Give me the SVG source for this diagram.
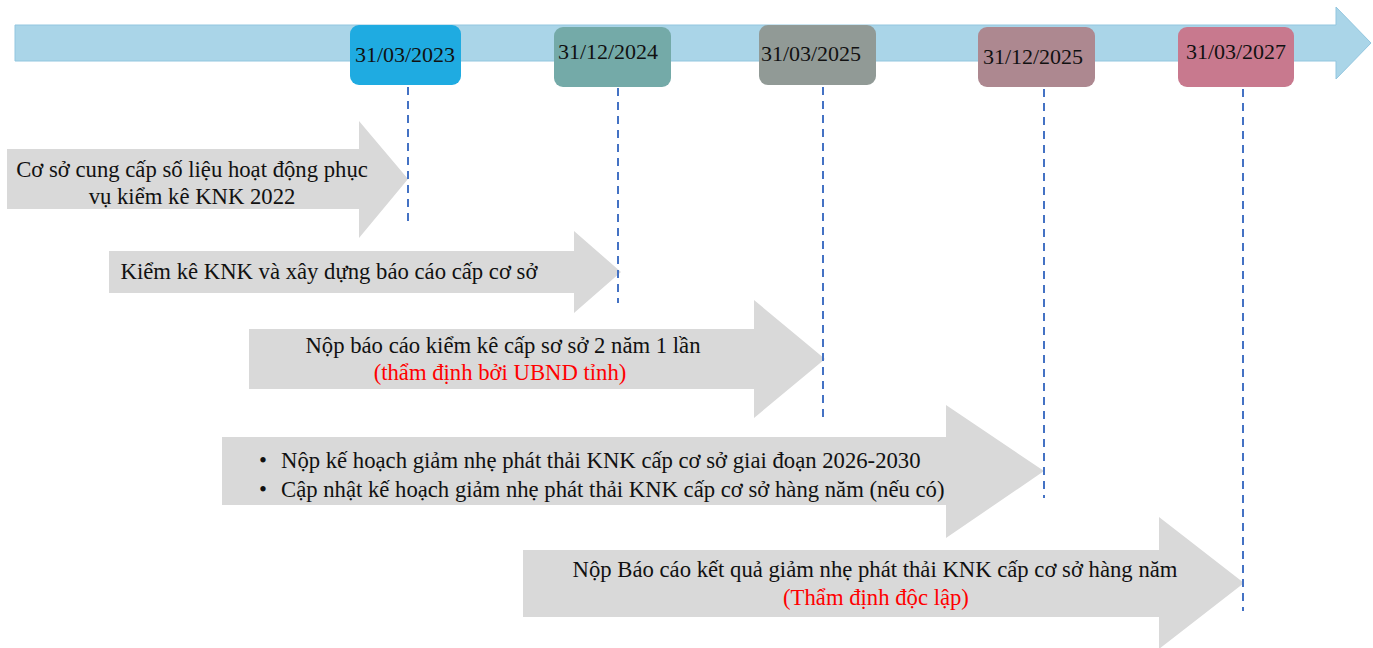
<svg xmlns="http://www.w3.org/2000/svg" width="1373" height="648" viewBox="0 0 1373 648">
<style>
text{font-family:"Liberation Serif","Times New Roman",serif;font-size:22.7px;fill:#111}
.d{font-size:22px}
.c{text-anchor:middle}
.red{fill:#FF0000}
.gray{fill:#D9D9D9}
.box{stroke:none}
.guide{stroke:#4472C4;stroke-width:2;stroke-dasharray:8 6;fill:none}
</style>
<rect width="1373" height="648" fill="#FFFFFF"/>
<g id="timeline">
<polygon points="15,25 1336,25 1336,7 1371,43 1336,79 1336,61 15,61" fill="#AAD5E8" stroke="#92C6DF" stroke-width="1"/>
</g>
<g id="arrow1">
<polygon class="gray" points="7,149 359,149 359,121 408,179 359,238 359,209 7,209"/>
<text class="c" x="192" y="177">Cơ sở cung cấp số liệu hoạt động phục</text>
<text class="c" x="192" y="204">vụ kiểm kê KNK 2022</text>
</g>
<g id="arrow2">
<polygon class="gray" points="109,251 574,251 574,231 621,272 574,313 574,293 109,293"/>
<text class="c" x="329" y="279">Kiểm kê KNK và xây dựng báo cáo cấp cơ sở</text>
</g>
<g id="arrow3">
<polygon class="gray" points="249,329 754,329 754,300 825,359 754,418 754,389 249,389"/>
<text class="c" x="503" y="353">Nộp báo cáo kiểm kê cấp sơ sở 2 năm 1 lần</text>
<text class="c red" x="500" y="380">(thẩm định bởi UBND tỉnh)</text>
</g>
<g id="arrow4">
<polygon class="gray" points="222,437 946,437 946,405 1044,471 946,538 946,505 222,505"/>
<text x="259" y="468">•</text>
<text x="281" y="468">Nộp kế hoạch giảm nhẹ phát thải KNK cấp cơ sở giai đoạn 2026-2030</text>
<text x="259" y="497">•</text>
<text x="281" y="497">Cập nhật kế hoạch giảm nhẹ phát thải KNK cấp cơ sở hàng năm (nếu có)</text>
</g>
<g id="arrow5">
<polygon class="gray" points="523,550 1159,550 1159,517 1244,583 1159,649 1159,617 523,617"/>
<text class="c" x="875" y="577">Nộp Báo cáo kết quả giảm nhẹ phát thải KNK cấp cơ sở hàng năm</text>
<text class="c red" x="876" y="605">(Thẩm định độc lập)</text>
</g>
<g id="connectors">
<line class="guide" x1="408" y1="87" x2="408" y2="221"/>
<line class="guide" x1="618" y1="88" x2="618" y2="303"/>
<line class="guide" x1="823" y1="87" x2="823" y2="418"/>
<line class="guide" x1="1044" y1="89" x2="1044" y2="498"/>
<line class="guide" x1="1243" y1="89" x2="1243" y2="611"/>
</g>
<g id="date1">
<rect class="box" x="350" y="25" width="111" height="60" rx="9" fill="#1FABE1"/>
<text class="c d" x="405" y="62">31/03/2023</text>
</g>
<g id="date2">
<rect class="box" x="554" y="27" width="117" height="60" rx="9" fill="#74AAA8"/>
<text class="c d" x="608" y="59">31/12/2024</text>
</g>
<g id="date3">
<rect class="box" x="759" y="25" width="117" height="60" rx="9" fill="#919A96"/>
<text class="c d" x="811" y="61">31/03/2025</text>
</g>
<g id="date4">
<rect class="box" x="978" y="27" width="117" height="60" rx="9" fill="#AD8890"/>
<text class="c d" x="1033" y="64">31/12/2025</text>
</g>
<g id="date5">
<rect class="box" x="1178" y="27" width="116" height="60" rx="9" fill="#C8798E"/>
<text class="c d" x="1236" y="59">31/03/2027</text>
</g>
</svg>
